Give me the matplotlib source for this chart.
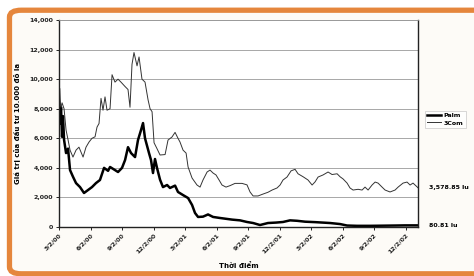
import matplotlib
matplotlib.use("Agg")
import matplotlib.pyplot as plt
from matplotlib.patches import FancyBboxPatch

# ---- data (months since 3/2/00, value of $10,000 investment) ----
palm_months = [0.0, 0.1, 0.19, 0.29, 0.38, 0.48, 0.67, 0.86, 1.05, 1.33, 1.62, 2.0, 2.38, 2.76,
               3.14, 3.52, 3.9, 4.29, 4.67, 4.86, 5.33, 5.62, 6.0, 6.29, 6.57, 6.86, 7.24, 7.52,
               7.81, 8.0, 8.19, 8.38, 8.57, 8.76, 8.95, 9.14, 9.33, 9.62, 9.9, 10.29, 10.57, 11.05,
               11.33, 11.81, 12.29, 12.67, 12.95, 13.24, 13.71, 14.19, 14.67, 15.33, 16.48, 17.24,
               17.9, 18.48, 19.14, 19.9, 20.67, 21.33, 22.0, 22.67, 23.43, 24.38, 25.81, 26.76,
               27.43, 28.38, 29.62, 30.86, 32.0, 32.95, 34.19]
palm_values = [9300, 7000, 8100, 6100, 7500, 5900, 5000, 5300, 3850, 3400, 2970, 2700, 2300, 2500,
               2700, 2970, 3180, 4000, 3800, 4060, 3850, 3720, 4000, 4530, 5400, 5000, 4730, 5880,
               6560, 7030, 6000, 5500, 5000, 4530, 3650, 4600, 4000, 3200, 2700, 2840, 2640, 2800,
               2370, 2160, 1960, 1490, 950, 680, 700, 850, 680, 610, 500, 450,
               340, 270, 135, 270, 300, 340, 450, 420, 360, 330, 270, 200,
               100, 80, 80, 90, 100, 110, 110]

com_months = [0.0, 0.19, 0.29, 0.48, 0.67, 0.86, 1.05, 1.33, 1.62, 1.9, 2.29, 2.57, 2.86, 3.14,
              3.43, 3.62, 3.81, 4.0, 4.19, 4.38, 4.57, 4.86, 5.05, 5.33, 5.62, 5.9, 6.29, 6.57,
              6.76, 6.95, 7.14, 7.43, 7.62, 7.9, 8.19, 8.48, 8.67, 8.86, 9.05, 9.33, 9.62, 10.1,
              10.38, 10.76, 11.05, 11.33, 11.52, 11.81, 12.1, 12.29, 12.67, 13.14, 13.43, 13.71,
              14.1, 14.38, 14.67, 14.95, 15.24, 15.52, 15.9, 16.29, 16.76, 17.43, 17.9, 18.19,
              18.48, 18.95, 19.43, 19.9, 20.29, 20.76, 21.05, 21.33, 21.71, 22.1, 22.48, 22.76,
              23.24, 23.71, 24.1, 24.38, 24.67, 25.14, 25.62, 26.0, 26.48, 26.76, 27.05, 27.43,
              27.71, 28.0, 28.48, 28.86, 29.14, 29.43, 29.81, 30.1, 30.38, 30.76, 31.05, 31.52,
              32.0, 32.29, 32.76, 33.14, 33.43, 33.71, 34.19]
com_values = [8800, 8100, 8400, 8000, 6560, 5900, 5200, 4730, 5200, 5400, 4730, 5400, 5750, 6000,
              6100, 6760, 7000, 8700, 7900, 8800, 7900, 8000, 10300, 9800, 10000, 9800, 9500, 9300,
              8100, 11000, 11800, 10900, 11500, 10000, 9800, 8600, 8000, 7800, 5700, 5300, 4870, 4900,
              5880, 6090, 6400, 6000, 5750, 5200, 5000, 4060, 3310, 2840, 2700, 3180,
              3720, 3850, 3650, 3520, 3180, 2840, 2700, 2800, 2950, 2950, 2850, 2370,
              2100, 2100, 2230, 2350, 2500, 2640, 2840, 3180, 3380, 3800, 3900, 3600,
              3400, 3180, 2840, 3050, 3380, 3520, 3720, 3550, 3600, 3400, 3250, 2970,
              2640, 2500, 2550, 2500, 2700, 2500, 2840, 3040, 2970, 2700, 2500, 2370,
              2500, 2700, 2970, 3040, 2840, 2970, 2650]

tick_months = [0, 3, 6, 9, 12, 15, 18, 21, 24, 27, 30, 33]
tick_labels = ["3/2/00", "6/2/00", "9/2/00", "12/2/00", "3/2/01", "6/2/01",
               "9/2/01", "12/2/01", "3/2/02", "6/2/02", "9/2/02", "12/2/02"]
y_ticks = [0, 2000, 4000, 6000, 8000, 10000, 12000, 14000]
y_tick_labels = ["0", "2,000", "4,000", "6,000", "8,000", "10,000", "12,000", "14,000"]
series_names = ["Palm", "3Com"]
end_labels = ["80.81 lu", "3,578.85 lu"]
y_title = "Giá trị của đầu tư 10.000 đô la"
x_title = "Thời điểm"

plt.rcParams['font.family'] = ['DejaVu Sans']

fig = plt.figure(figsize=(4.74, 2.76), dpi=100)
fig.patch.set_facecolor("white")

bg = fig.add_axes([0, 0, 1, 1], zorder=-10)
bg.set_axis_off()
bg.set_xlim(0, 1)
bg.set_ylim(0, 1)
frame = FancyBboxPatch((0.02, 0.008), 1.1, 0.955,
                       boxstyle="round,pad=0,rounding_size=0.025",
                       facecolor="#fdfbf7", edgecolor="#e5863c", linewidth=3.8,
                       clip_on=False)
bg.add_patch(frame)

ax = fig.add_axes([0.1245, 0.1775, 0.7575, 0.75], zorder=1)
ax.set_facecolor("white")

ax.plot(palm_months, palm_values, color="black", linewidth=1.8, label=series_names[0],
        solid_joinstyle="round")
ax.plot(com_months, com_values, color="#333333", linewidth=0.7, label=series_names[1])

ax.set_xlim(0, 34.19)
ax.set_ylim(0, 14000)
ax.set_yticks(y_ticks)
ax.set_yticklabels(y_tick_labels, fontsize=4.5, fontweight="bold", color="#222222")
ax.set_xticks(tick_months)
ax.set_xticklabels(tick_labels, fontsize=4.5, rotation=45, ha="right",
                   rotation_mode="anchor", fontweight="bold", color="#222222")
ax.tick_params(axis="both", length=2, width=0.6, pad=2)
ax.yaxis.grid(True, color="#999999", linewidth=0.6)
ax.set_axisbelow(True)
for s in ["left", "bottom", "right"]:
    ax.spines[s].set_color("#222222")
    ax.spines[s].set_linewidth(1.0)
ax.spines["top"].set_color("#999999")
ax.spines["top"].set_linewidth(0.6)

ax.set_ylabel(y_title, fontsize=5, fontweight="bold", labelpad=6)
ax.set_xlabel(x_title, fontsize=5, fontweight="bold", labelpad=5)

leg = ax.legend(loc="center left", bbox_to_anchor=(1.01, 0.52), fontsize=4.5,
                frameon=True, fancybox=False, edgecolor="#bbbbbb", handlelength=2.2,
                borderpad=0.4, labelspacing=0.3, handletextpad=0.4)
leg.get_frame().set_linewidth(0.5)
for t in leg.get_texts():
    t.set_fontweight("bold")

ax.annotate(end_labels[0], xy=(palm_months[-1], palm_values[-1]), xytext=(8, 0),
            textcoords="offset points", fontsize=4.5, fontweight="bold",
            va="center", ha="left", annotation_clip=False)
ax.annotate(end_labels[1], xy=(com_months[-1], com_values[-1]), xytext=(8, 0),
            textcoords="offset points", fontsize=4.5, fontweight="bold",
            va="center", ha="left", annotation_clip=False)

fig.savefig("out.png", dpi=100, facecolor=fig.get_facecolor())
